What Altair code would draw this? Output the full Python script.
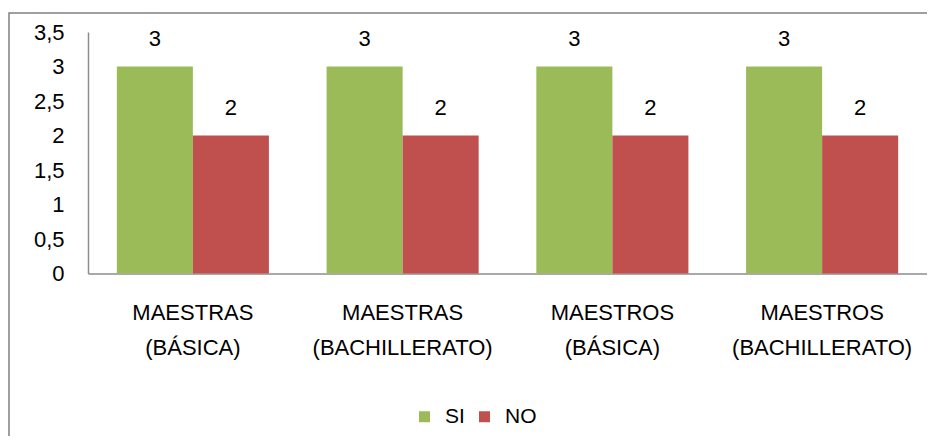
import altair as alt
import pandas as pd

categories = ["MAESTRAS\n(BÁSICA)", "MAESTRAS\n(BACHILLERATO)", "MAESTROS\n(BÁSICA)", "MAESTROS\n(BACHILLERATO)"]
si_values = [3, 3, 3, 3]
no_values = [2, 2, 2, 2]
series = ["SI", "NO"]
colors = ["#9BBB59", "#C0504D"]
y_ticks = [0, 0.5, 1, 1.5, 2, 2.5, 3, 3.5]

rows = []
for c, s, n in zip(categories, si_values, no_values):
    rows.append({"cat": c, "serie": "SI", "value": s})
    rows.append({"cat": c, "serie": "NO", "value": n})
df = pd.DataFrame(rows)

FONT = "Liberation Sans"
FS = 22

x_enc = alt.X("cat:N", sort=categories, title=None,
              scale=alt.Scale(paddingInner=0.275, paddingOuter=0.1375),
              axis=alt.Axis(labelExpr="split(datum.value, '\\n')", labelAngle=0,
                            labelLineHeight=35, labelPadding=46, labelBaseline="alphabetic",
                            ticks=False, domainColor="#8c8c8c", domainWidth=1.5,
                            labelFontSize=FS, labelFont=FONT, labelColor="#000000",
                            labelOverlap=False, labelLimit=0))
xoff = alt.XOffset("serie:N", sort=series, scale=alt.Scale(paddingInner=0, paddingOuter=0))
y_enc = alt.Y("value:Q", title=None,
              scale=alt.Scale(domain=[0, 3.5], nice=False),
              axis=alt.Axis(values=y_ticks, grid=False, ticks=False, labelOverlap=False,
                            labelExpr="replace(format(datum.value, '.1~f'), '.', ',')",
                            labelPadding=24, domainColor="#8c8c8c", domainWidth=1.5,
                            labelFontSize=FS, labelFont=FONT, labelColor="#000000"))

base = alt.Chart(df)
bars = base.mark_bar().encode(
    x=x_enc, xOffset=xoff, y=y_enc,
    color=alt.Color("serie:N", sort=series,
                    scale=alt.Scale(domain=series, range=colors),
                    legend=alt.Legend(title=None, orient="none", direction="horizontal",
                                      legendX=326, legendY=374, symbolType="square",
                                      symbolSize=121, symbolStrokeWidth=0,
                                      labelFontSize=21, labelFont=FONT, labelColor="#000000",
                                      labelOffset=10, columnPadding=9, padding=0)),
)
labels = base.mark_text(baseline="alphabetic", dy=-21, fontSize=FS, font=FONT, color="#000000").encode(
    x=x_enc, xOffset=xoff, y=y_enc, text="value:Q"
)
frame = alt.Chart(pd.DataFrame({"a": [0]})).mark_rect(
    fill=None, stroke="#808080", strokeWidth=1.5
).encode(x=alt.value(-79), x2=alt.value(900), y=alt.value(-19), y2=alt.value(480))

chart = alt.layer(frame, bars, labels).properties(
    width=839, height=241.5,
    autosize=alt.AutoSizeParams(type="none"),
    padding={"left": 80, "top": 24, "right": 0, "bottom": 162},
    background="#ffffff",
).configure_view(stroke=None).configure_axis(labelOverlap=False)

chart.save("out.html", embed_options={"renderer": "svg", "actions": False})
